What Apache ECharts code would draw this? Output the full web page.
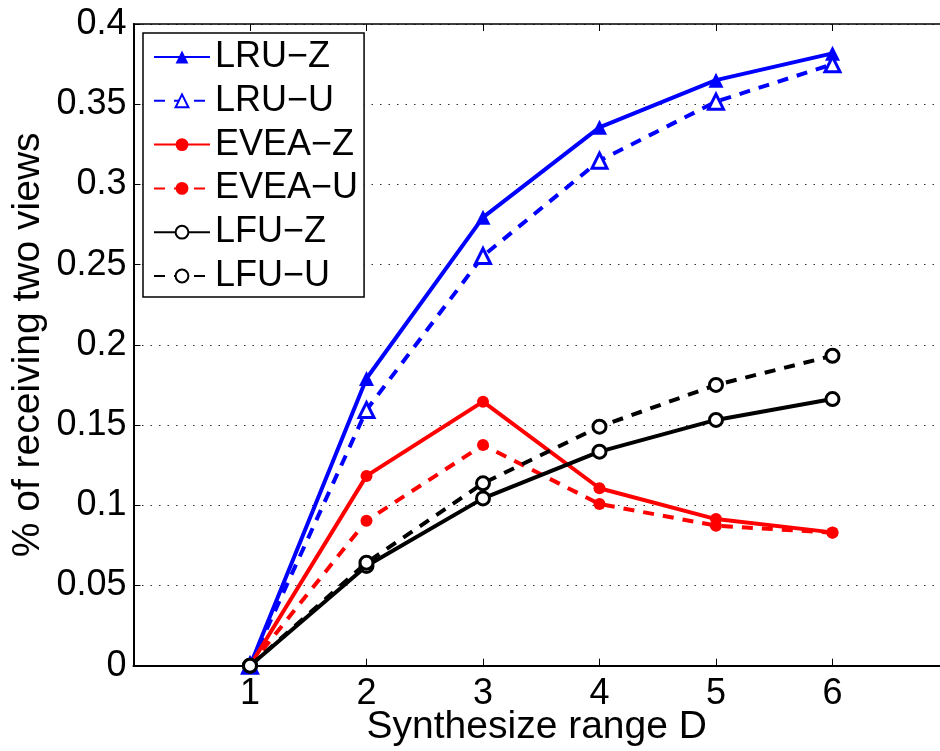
<!DOCTYPE html>
<html>
<head>
<meta charset="utf-8">
<script src="https://cdn.jsdelivr.net/npm/echarts@6/dist/echarts.min.js"></script>
<style>
html,body{margin:0;padding:0;background:#fff;}
#chart{width:940px;height:751px;}
</style>
</head>
<body>
<div id="chart"></div>
<script>
var xValues = [1, 2, 3, 4, 5, 6];
var seriesNames = ["LRU\u2212Z", "LRU\u2212U", "EVEA\u2212Z", "EVEA\u2212U", "LFU\u2212Z", "LFU\u2212U"];
var lruZ = [0, 0.179, 0.2795, 0.3356, 0.365, 0.3817];
var lruU = [0, 0.1594, 0.2554, 0.3148, 0.3516, 0.3749];
var eveaZ = [0, 0.1183, 0.1646, 0.1106, 0.0914, 0.0831];
var eveaU = [0, 0.0904, 0.1376, 0.1008, 0.0873, 0.0829];
var lfuZ = [0, 0.0622, 0.1043, 0.1334, 0.1532, 0.1662];
var lfuU = [0, 0.0642, 0.1137, 0.149, 0.175, 0.1932];
var yTicks = [0, 0.05, 0.1, 0.15, 0.2, 0.25, 0.3, 0.35, 0.4];

var FONT = "Liberation Sans";
function pairs(vals){ return xValues.map(function(x,i){ return [x, vals[i]]; }); }

function mk(name, vals, color, dashed, symbol, size, filled){
  return {
    name: name, type: 'line', data: pairs(vals),
    symbol: symbol, symbolSize: size, showSymbol: true,
    lineStyle: {color: color, width: 4, type: dashed ? [11, 9] : 'solid'},
    itemStyle: {color: filled ? color : '#fff', borderColor: color, borderWidth: filled ? 0 : 3},
    emphasis: {disabled: true},
    z: 3
  };
}

var chart = echarts.init(document.getElementById('chart'), null, {renderer: 'canvas'});
chart.setOption({
  animation: false,
  backgroundColor: '#fff',
  textStyle: {fontFamily: FONT, color: '#000'},
  grid: {left: 133.5, top: 24, right: 0, bottom: 85.3, containLabel: false, outerBoundsMode: 'none'},
  legend: {
    orient: 'vertical', left: 143, top: 33,
    padding: [6, 6, 3, 10],
    itemWidth: 56, itemHeight: 16, itemGap: 7.8,
    backgroundColor: '#fff', borderColor: '#000', borderWidth: 1.5,
    textStyle: {fontFamily: FONT, fontSize: 36, color: '#000'},
    data: seriesNames,
    selectedMode: false
  },
  xAxis: [{
    type: 'value', min: 0, max: 6.923, interval: 1, position: 'bottom',
    name: 'Synthesize range D', nameLocation: 'middle', nameGap: 42, nameMoveOverlap: false,
    nameTextStyle: {fontFamily: FONT, fontSize: 39, color: '#000'},
    axisLine: {show: true, onZero: false, lineStyle: {color: '#000', width: 2}},
    axisTick: {show: true, inside: true, length: 7, lineStyle: {color: '#000', width: 1}},
    axisLabel: {fontFamily: FONT, fontSize: 36, color: '#000', margin: 10, showMaxLabel: false,
      formatter: function(v){ var r = Math.round(v); return (Math.abs(r - v) < 1e-6 && r >= 1 && r <= 6) ? String(r) : ''; }},
    splitLine: {show: false}
  }, {
    type: 'value', min: 0, max: 6.923, interval: 1, position: 'top',
    axisLine: {show: true, onZero: false, lineStyle: {color: '#000', width: 1.5}},
    axisTick: {show: true, inside: true, length: 7, lineStyle: {color: '#000', width: 1}},
    axisLabel: {show: false}, splitLine: {show: false}
  }],
  yAxis: {
    type: 'value', min: 0, max: 0.4, interval: 0.05,
    name: '% of receiving two views', nameLocation: 'middle', nameGap: 86, nameMoveOverlap: false,
    nameTextStyle: {fontFamily: FONT, fontSize: 39, color: '#000'},
    axisLine: {show: true, onZero: false, lineStyle: {color: '#000', width: 2}},
    axisTick: {show: true, inside: true, length: 7, lineStyle: {color: '#000', width: 1}},
    axisLabel: {fontFamily: FONT, fontSize: 36, color: '#000', margin: 7,
      formatter: function(v){ var t = yTicks.filter(function(k){return Math.abs(k-v)<1e-9;}); return t.length ? String(t[0]) : ''; }},
    splitLine: {show: true, lineStyle: {color: '#333', width: 1.2, type: [1.5, 7]}}
  },
  series: [
    mk(seriesNames[0], lruZ, '#0000ff', false, 'triangle', 15, true),
    mk(seriesNames[1], lruU, '#0000ff', true, 'triangle', 15, false),
    mk(seriesNames[2], eveaZ, '#ff0000', false, 'circle', 12, true),
    mk(seriesNames[3], eveaU, '#ff0000', true, 'circle', 12, true),
    mk(seriesNames[4], lfuZ, '#000000', false, 'circle', 13, false),
    mk(seriesNames[5], lfuU, '#000000', true, 'circle', 13, false)
  ]
});
</script>
</body>
</html>
